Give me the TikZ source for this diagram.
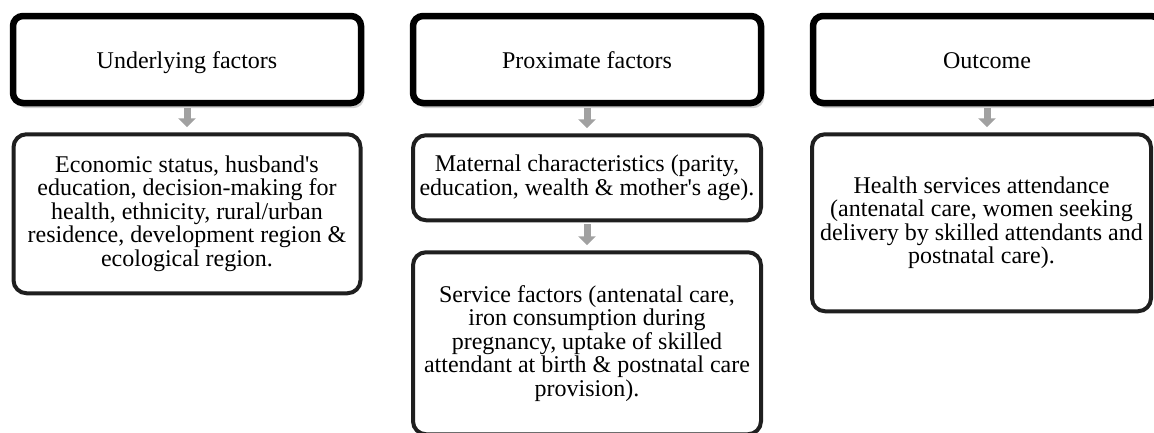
\documentclass[tikz,border=0pt]{standalone}
\usepackage{fontspec}
\setmainfont{Liberation Serif}
\usepackage{xcolor}
\usepackage{tikz}
\usetikzlibrary{positioning,arrows.meta,shadows}
\tikzset{
  headerBox/.style={
    rectangle,
    rounded corners=10pt,
    draw=black,
    line width=6.5pt,
    fill=white,
    drop shadow={shadow xshift=3pt,shadow yshift=-5pt,fill=black!30,opacity=0.6},
    minimum width=348pt,
    minimum height=87pt,
    text height=19pt,
    text depth=2pt,
    align=center,
    font=\fontsize{24pt}{23.5pt}\selectfont
  },
  factorBox/.style={
    rectangle,
    rounded corners=13pt,
    draw=black!88,
    line width=4pt,
    fill=white,
    minimum width=347pt,
    align=center,
    font=\fontsize{24pt}{23.5pt}\selectfont
  },
  arrowLine/.style={
    -{Triangle[length=9pt,width=17pt]},
    line width=7pt,
    draw=black!37,
    shorten <=2pt,
    shorten >=5pt
  }
}

\begin{document}
\begin{tikzpicture}[x=1pt,y=-1pt]
        \useasboundingbox (0,0) rectangle (1154,432);

        \node[headerBox] (underlying) at (187,59.5) {Underlying factors};
        \node[headerBox, right=45.5pt of underlying] (proximate) {Proximate factors};
        \node[headerBox, right=45.5pt of proximate] (outcome) {Outcome};

        \node[factorBox, minimum height=159pt, below=26pt of underlying] (underlyingList)
            {Economic status, husband\textquotesingle s\\ education, decision-making for\\ health, ethnicity, rural/urban\\ residence, development region \&\\ ecological region.};
        \node[factorBox, minimum width=348pt, minimum height=85pt, below=27pt of proximate] (maternal)
            {Maternal characteristics (parity,\\ education, wealth \& mother\textquotesingle s age).};
        \node[factorBox, minimum width=348pt, minimum height=182pt, below=28pt of maternal] (service)
            {Service factors (antenatal care,\\ iron consumption during\\ pregnancy, uptake of skilled\\ attendant at birth \& postnatal care\\ provision).};
        \node[factorBox, minimum width=339pt, minimum height=177pt, below=26pt of outcome, xshift=-5.5pt] (attendance)
            {Health services attendance\\ (antenatal care, women seeking\\ delivery by skilled attendants and\\ postnatal care).};

        \draw[arrowLine] (underlying) -- (underlyingList);
        \draw[arrowLine] (proximate) -- (maternal);
        \draw[arrowLine] (maternal) -- (service);
        \draw[arrowLine] (outcome.south) -- (outcome.south |- attendance.north);
    \end{tikzpicture}
\end{document}
